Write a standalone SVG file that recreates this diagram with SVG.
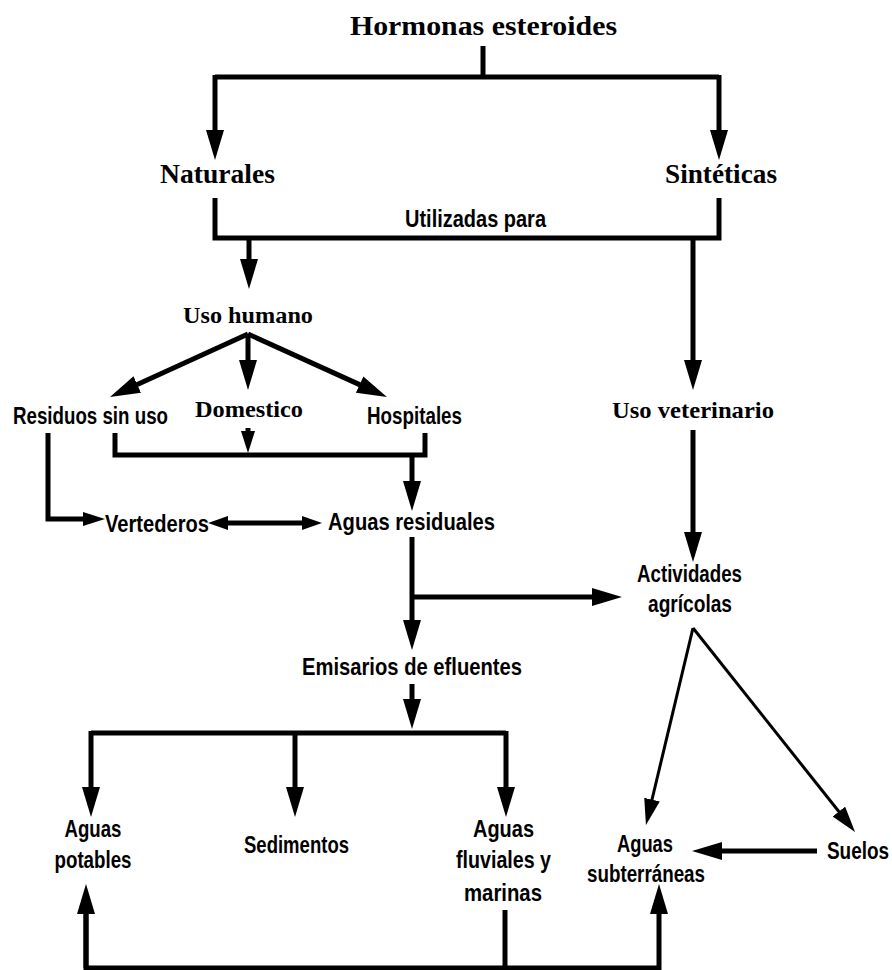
<svg xmlns="http://www.w3.org/2000/svg" width="892" height="970" viewBox="0 0 892 970">
<defs>
<marker id="ah" markerUnits="userSpaceOnUse" markerWidth="32" markerHeight="20" refX="6" refY="9" orient="auto">
<path d="M0,0 L30,9 L0,18 z" fill="#000"/>
</marker>
<marker id="ahs" markerUnits="userSpaceOnUse" markerWidth="28" markerHeight="18" refX="6" refY="8" orient="auto">
<path d="M0,0 L26,8 L0,16 z" fill="#000"/>
</marker>
<marker id="am" markerUnits="userSpaceOnUse" markerWidth="24" markerHeight="16" refX="6" refY="7" orient="auto">
<path d="M0,0 L22,7 L0,14 z" fill="#000"/>
</marker>
<marker id="ahb" markerUnits="userSpaceOnUse" markerWidth="22" markerHeight="16" refX="6" refY="7" orient="auto-start-reverse">
<path d="M0,0 L20,7 L0,14 z" fill="#000"/>
</marker>
</defs>
<style>
.c{fill:none;stroke:#000;stroke-width:5;stroke-linejoin:miter;stroke-linecap:butt}
.t{stroke-width:3}
.serif{font-family:"Liberation Serif","Times New Roman",serif;font-weight:bold;fill:#000;text-anchor:middle}
.sans{font-family:"Liberation Sans",Arial,sans-serif;font-weight:bold;fill:#000;text-anchor:middle;font-size:24px}
</style>
<rect width="892" height="970" fill="#fff"/>
<g id="connectors">
<path class="c" d="M483,46 V77"/>
<path class="c" d="M215,77 H719"/>
<path class="c" d="M215,75 V136" marker-end="url(#ah)"/>
<path class="c" d="M719,75 V136" marker-end="url(#ah)"/>
<path class="c" d="M215,198 V238 H719 V198"/>
<path class="c" d="M249,238 V265" marker-end="url(#ah)"/>
<path class="c" d="M693,238 V366" marker-end="url(#ah)"/>
<path class="c" d="M248,334 L131.8,387" marker-end="url(#ah)"/>
<path class="c" d="M248,334 V366" marker-end="url(#ah)"/>
<path class="c" d="M248,334 L365.1,387.1" marker-end="url(#ah)"/>
<path class="c" d="M115,433 V455 H425 V433"/>
<path class="c" d="M248,428 V437" marker-end="url(#am)"/>
<path class="c" d="M412,455 V487" marker-end="url(#ah)"/>
<path class="c" d="M48,433 V519 H89" marker-end="url(#am)"/>
<path class="c" d="M222,523 H308" marker-start="url(#ahb)" marker-end="url(#ahb)"/>
<path class="c" d="M412,537 V626" marker-end="url(#ah)"/>
<path class="c" d="M412,597 H598" marker-end="url(#ah)"/>
<path class="c" d="M693,430 V538" marker-end="url(#ah)"/>
<path class="c" d="M412,684 V705" marker-end="url(#ah)"/>
<path class="c" d="M91,733 H506"/>
<path class="c" d="M91,731 V793" marker-end="url(#ah)"/>
<path class="c" d="M295,733 V793" marker-end="url(#ah)"/>
<path class="c" d="M506,731 V793" marker-end="url(#ah)"/>
<path class="c t" d="M693,628 L650.6,805.5" marker-end="url(#ahs)"/>
<path class="c t" d="M693,628 L842.6,816.3" marker-end="url(#ahs)"/>
<path class="c" d="M817,851 H716" marker-end="url(#ah)"/>
<path class="c" d="M86,908 V968 H659 V908" marker-end="url(#ah)"/>
<path class="c" d="M86,968 V908" marker-end="url(#ah)"/>
<path class="c" d="M505,910 V968"/>
</g>
<g id="hormonas"><text class="serif" x="483.5" y="35" font-size="28" textLength="267" lengthAdjust="spacingAndGlyphs">Hormonas esteroides</text></g>
<g id="naturales"><text class="serif" x="217.5" y="183" font-size="28" textLength="115" lengthAdjust="spacingAndGlyphs">Naturales</text></g>
<g id="sinteticas"><text class="serif" x="721" y="183" font-size="28" textLength="112" lengthAdjust="spacingAndGlyphs">Sintéticas</text></g>
<g id="utilizadas"><text class="sans" x="475.5" y="227" font-size="22" textLength="141" lengthAdjust="spacingAndGlyphs">Utilizadas para</text></g>
<g id="uso-humano"><text class="serif" x="248" y="323" font-size="24" textLength="130" lengthAdjust="spacingAndGlyphs">Uso humano</text></g>
<g id="residuos"><text class="sans" transform="translate(90.5,424) scale(0.78,1)" x="0" y="0">Residuos sin uso</text></g>
<g id="domestico"><text class="serif" x="249" y="417" font-size="24" textLength="108" lengthAdjust="spacingAndGlyphs">Domestico</text></g>
<g id="hospitales"><text class="sans" x="414.5" y="424" textLength="95" lengthAdjust="spacingAndGlyphs">Hospitales</text></g>
<g id="uso-veterinario"><text class="serif" x="693" y="418" font-size="24" textLength="162" lengthAdjust="spacingAndGlyphs">Uso veterinario</text></g>
<g id="vertederos"><text class="sans" x="157" y="532" textLength="104" lengthAdjust="spacingAndGlyphs">Vertederos</text></g>
<g id="aguas-residuales"><text class="sans" x="411.5" y="530" textLength="167" lengthAdjust="spacingAndGlyphs">Aguas residuales</text></g>
<g id="actividades"><text class="sans" x="689.5" y="582" textLength="105" lengthAdjust="spacingAndGlyphs">Actividades</text><text class="sans" x="690" y="612" textLength="84" lengthAdjust="spacingAndGlyphs">agrícolas</text></g>
<g id="emisarios"><text class="sans" x="412" y="675" textLength="220" lengthAdjust="spacingAndGlyphs">Emisarios de efluentes</text></g>
<g id="aguas-potables"><text class="sans" x="93" y="837" textLength="57" lengthAdjust="spacingAndGlyphs">Aguas</text><text class="sans" x="93" y="868" textLength="77" lengthAdjust="spacingAndGlyphs">potables</text></g>
<g id="sedimentos"><text class="sans" x="296.5" y="853" textLength="105" lengthAdjust="spacingAndGlyphs">Sedimentos</text></g>
<g id="aguas-fluviales"><text class="sans" x="503.5" y="837" textLength="61" lengthAdjust="spacingAndGlyphs">Aguas</text><text class="sans" x="503.5" y="868" textLength="95" lengthAdjust="spacingAndGlyphs">fluviales y</text><text class="sans" x="503" y="901" textLength="78" lengthAdjust="spacingAndGlyphs">marinas</text></g>
<g id="aguas-subterraneas"><text class="sans" x="645" y="852" textLength="56" lengthAdjust="spacingAndGlyphs">Aguas</text><text class="sans" x="646" y="882" textLength="118" lengthAdjust="spacingAndGlyphs">subterráneas</text></g>
<g id="suelos"><text class="sans" transform="translate(858,859) scale(0.79,1)" x="0" y="0">Suelos</text></g>
</svg>
